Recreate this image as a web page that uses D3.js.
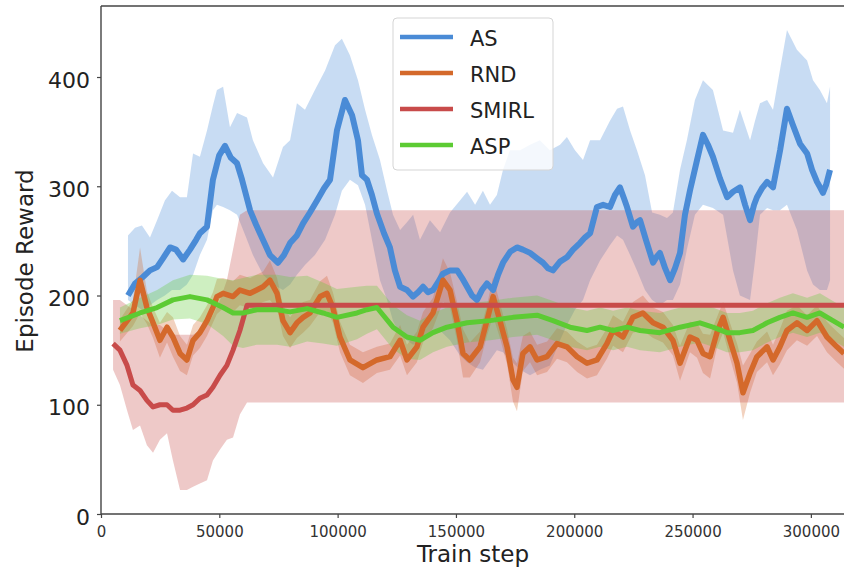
<!DOCTYPE html>
<html><head><meta charset="utf-8">
<script src="https://cdn.jsdelivr.net/npm/d3@7"></script>
<style>body{margin:0;background:#fff}svg{display:block;font-family:"DejaVu Sans",sans-serif}</style>
</head><body><svg id="c" width="844" height="573"></svg>
<script>
// ---- DATA ----
const seriesNames = ["AS", "RND", "SMIRL", "ASP"];
const xTicks = [0, 50000, 100000, 150000, 200000, 250000, 300000];
const yTicks = [0, 100, 200, 300, 400];

const asSteps = [11400,14400,17700,20700,23700,26200,29200,31700,34700,37600,40200,41800,44800,47300,49900,52400,54900,57500,59600,63000,65500,68000,71400,74800,77300,79900,82800,85400,88300,91300,94200,96800,99700,103100,106100,108600,110300,112400,114500,116600,119600,122100,124200,126400,129300,131900,134000,136100,138200,140300,142400,144500,147500,150500,152600,154700,156800,158900,161000,163100,165700,167800,169900,172900,175800,178300,181300,184300,186800,188900,191000,194000,196900,199500,202400,204500,206700,209600,212200,215100,217200,219300,221000,222300,224800,226500,227800,230300,233300,235000,236200,238400,240500,242600,244700,246800,248900,251900,254400,256500,258600,261600,264600,267100,270100,272200,274300,276000,277200,279300,281500,284000,287000,289900,292400,295400,298400,300500,302600,303900,305100,306400,308100];
const asMean = [200,211,217,223,226,234,244,242,233,242,251,257,263,306,328,337,326,321,306,278,265,253,237,230,237,248,255,266,276,287,298,306,351,379,365,342,310,306,292,275,257,244,223,208,205,199,203,208,203,205,212,220,223,223,216,208,200,196,205,211,205,219,230,240,244,242,239,234,230,225,223,231,235,242,248,253,257,281,283,281,292,299,289,281,263,267,269,251,230,236,239,225,214,225,239,274,296,324,347,338,327,307,290,295,299,283,269,283,290,298,304,299,333,371,356,339,330,315,304,299,294,301,315];

const asBandSteps = [11400,14400,17300,20700,23700,27000,30000,33400,36300,38900,41800,44800,47300,49000,51600,54500,57500,61700,64200,68500,72700,76900,79900,82800,86200,90400,94700,98900,101800,105200,108600,111600,114500,117900,120900,123400,126400,129300,131900,134800,139000,143300,147500,151700,154700,158100,161400,164400,167300,169900,172800,177100,181300,185500,189700,194000,196900,200300,203700,206700,210900,215100,218100,220600,223600,226500,229900,232900,236200,239200,241700,244700,247600,251000,254400,258600,262900,267100,270000,274300,276400,278500,281500,284000,286900,289900,294100,298400,300900,303800,306800,308100];
const asUpper = [255,262,264,253,269,287,296,290,290,330,327,351,374,388,391,354,367,363,342,321,308,336,342,376,370,388,406,429,435,420,397,370,347,324,296,274,260,267,274,251,269,258,276,287,295,283,296,283,292,315,333,333,338,342,333,338,345,333,324,342,342,360,371,373,351,333,310,276,274,271,276,315,342,379,397,388,351,349,370,342,360,376,379,370,406,443,425,415,397,388,376,391];
const asLower = [196,191,187,191,196,200,205,205,210,219,237,251,278,283,281,278,274,251,237,219,210,205,210,219,228,237,251,274,296,306,301,283,251,214,196,177,164,159,155,159,164,168,159,145,139,134,132,141,150,148,141,132,127,132,136,159,173,187,196,214,232,246,255,251,237,223,205,196,191,196,196,210,242,274,283,280,274,223,200,196,232,274,280,278,278,283,260,223,210,205,205,214];

const rndSteps = [8000,13500,16500,19400,22000,24900,27900,30400,33400,36300,38900,41800,44800,47300,49000,51600,55800,58700,63000,68500,71400,74400,76900,79900,82800,85400,88300,92600,95500,98000,101000,105200,110700,116600,122100,126400,129300,133500,136100,140300,144500,147500,150400,153000,155900,160200,163100,165700,168600,171600,174100,175800,178300,181300,184300,188500,192700,196900,201200,205400,209600,213800,216400,220600,224800,229000,233300,237500,241700,244700,248900,251900,254400,257400,260300,262900,265800,268800,271300,274300,277200,281500,284000,286900,289900,294100,298400,302600,306800,311000,314000];
const rndMean = [168,184,214,189,175,159,171,162,147,141,159,166,177,189,199,202,199,205,202,208,214,202,177,166,175,180,184,199,202,189,162,141,134,141,144,159,141,153,171,184,214,205,177,147,141,153,177,199,177,153,123,116,147,153,141,144,156,153,144,138,141,156,168,162,180,184,175,171,159,138,162,159,147,144,166,180,159,138,111,129,144,153,141,153,168,175,168,177,162,153,147];
const rndStd = [10,12,30,15,14,16,14,18,16,14,14,14,14,14,16,14,14,14,14,14,18,14,14,14,14,14,12,14,16,14,14,14,14,12,12,14,14,14,14,14,20,16,18,22,16,14,14,18,16,16,20,22,16,14,14,14,14,14,14,14,14,14,14,14,14,16,14,14,14,16,14,16,18,20,14,14,16,18,25,18,14,14,14,16,18,16,14,14,14,14,14];

const smirlSteps = [5100,8000,11000,13500,16500,19400,22000,24900,27900,30400,33400,36300,38900,41800,44800,47300,50300,53200,55800,58700,61700,314000];
const smirlMean = [156,150,136,118,113,104,98,100,100,95,95,97,100,106,109,116,127,136,150,168,191,191];
const smirlUpper = [196,196,191,187,182,177,173,173,168,164,164,164,164,168,173,182,196,214,242,274,278,278];
const smirlLower = [132,118,95,77,81,63,56,68,74,49,22,22,25,28,31,49,59,68,70,91,102,102];

const aspSteps = [8000,16500,23700,30400,37600,44800,51600,55800,60000,65900,74400,79900,87100,93800,99700,108200,112400,116600,123400,129300,134800,140300,146200,154700,164400,174100,184300,191000,198200,205400,210900,216400,222300,227800,236200,244700,253100,258600,264500,270000,275500,281500,286900,292400,298400,303800,309300,314000];
const aspMean = [177,184,189,196,199,196,189,184,184,187,187,185,188,184,180,184,187,189,171,162,159,166,171,175,177,180,182,177,171,168,171,168,171,168,166,171,175,171,166,166,168,175,180,184,180,184,177,171];
const aspStd = [12,14,16,18,20,22,26,30,32,32,32,32,30,28,26,24,22,20,20,20,18,18,18,18,18,18,18,18,18,18,18,18,18,18,18,18,18,18,18,18,18,18,18,18,18,18,18,18];

const colors = {AS:"#4a8bd6", RND:"#d4692b", SMIRL:"#c84b4a", ASP:"#5ccb33"};

// ---- CHART ----
const svg = d3.select("#c");
const x = d3.scaleLinear().domain([0, 314000]).range([101, 844]);
const y = d3.scaleLinear().domain([0, 465]).range([514, 6]);

svg.append("defs").append("clipPath").attr("id","clip")
  .append("rect").attr("x",101).attr("y",6).attr("width",743).attr("height",508);
const plot = svg.append("g").attr("clip-path","url(#clip)");

const area = d3.area().x(d=>x(d.s)).y0(d=>y(d.lo)).y1(d=>y(d.hi));
const line = d3.line().x(d=>x(d.s)).y(d=>y(d.v));

const asBand = asBandSteps.map((s,i)=>({s, hi:asUpper[i], lo:asLower[i]}));
const rndBand = rndSteps.map((s,i)=>({s, hi:rndMean[i]+rndStd[i], lo:rndMean[i]-rndStd[i]}));
const smBand = smirlSteps.map((s,i)=>({s, hi:smirlUpper[i], lo:smirlLower[i]}));
const aspBand = aspSteps.map((s,i)=>({s, hi:aspMean[i]+aspStd[i], lo:aspMean[i]-aspStd[i]}));

plot.append("path").datum(asBand).attr("d",area).attr("fill",colors.AS).attr("fill-opacity",0.3);
plot.append("path").datum(rndBand).attr("d",area).attr("fill",colors.RND).attr("fill-opacity",0.3);
plot.append("path").datum(smBand).attr("d",area).attr("fill",colors.SMIRL).attr("fill-opacity",0.3);
plot.append("path").datum(aspBand).attr("d",area).attr("fill",colors.ASP).attr("fill-opacity",0.3);

function drawLine(steps, vals, col, w){
  plot.append("path").datum(steps.map((s,i)=>({s, v:vals[i]})))
    .attr("d",line).attr("fill","none").attr("stroke",col).attr("stroke-width",w)
    .attr("stroke-linejoin","round").attr("stroke-linecap","butt");
}
drawLine(asSteps, asMean, colors.AS, 6);
drawLine(rndSteps, rndMean, colors.RND, 5.5);
drawLine(smirlSteps, smirlMean, colors.SMIRL, 5);
drawLine(aspSteps, aspMean, colors.ASP, 5);

// axes
const xa = svg.append("g").attr("transform","translate(0,514)")
  .call(d3.axisBottom(x).tickValues(xTicks).tickFormat(d3.format("d")).tickSize(4).tickPadding(8));
xa.select(".domain").remove();
xa.selectAll("line").attr("stroke","#444").attr("stroke-width",1.2);
xa.selectAll("text").attr("font-size",15).attr("fill","#333").attr("font-family","DejaVu Sans");

const ya = svg.append("g").attr("transform","translate(101,0)")
  .call(d3.axisLeft(y).tickValues(yTicks).tickSize(4).tickPadding(7));
ya.select(".domain").remove();
ya.selectAll("line").attr("stroke","#444").attr("stroke-width",1.2);
ya.selectAll("text").attr("font-size",22).attr("fill","#222").attr("dy",null)
  .attr("transform","translate(0,10)").attr("font-family","DejaVu Sans");

// spines
const sp = svg.append("g").attr("stroke","#444").attr("stroke-width",1.4);
sp.append("line").attr("x1",101).attr("x2",101).attr("y1",6).attr("y2",514);
sp.append("line").attr("x1",101).attr("x2",844).attr("y1",514).attr("y2",514);
sp.append("line").attr("x1",101).attr("x2",844).attr("y1",6).attr("y2",6);

// labels
svg.append("text").attr("x",473).attr("y",562).attr("text-anchor","middle")
  .attr("font-size",23).attr("fill","#222").text("Train step");
svg.append("text").attr("transform","translate(33,261) rotate(-90)").attr("text-anchor","middle")
  .attr("font-size",23).attr("fill","#222").text("Episode Reward");

// legend
const lg = svg.append("g");
lg.append("rect").attr("x",393).attr("y",18).attr("width",160).attr("height",152).attr("rx",4)
  .attr("fill","#fff").attr("fill-opacity",0.8).attr("stroke","#d5d5d5");
seriesNames.forEach((n,i)=>{
  const yy = 37 + i*36;
  lg.append("line").attr("x1",400).attr("x2",453).attr("y1",yy).attr("y2",yy)
    .attr("stroke",colors[n]).attr("stroke-width",4.5);
  lg.append("text").attr("x",470).attr("y",yy+9).attr("font-size",21).attr("fill","#222").text(n);
});
</script></body></html>
